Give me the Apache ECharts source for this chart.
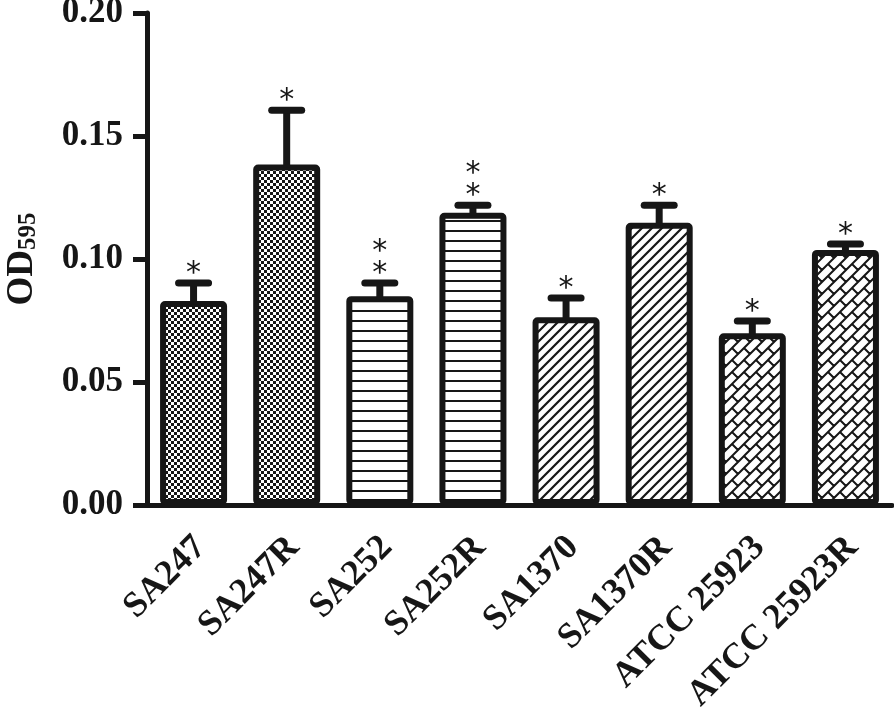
<!DOCTYPE html>
<html><head><meta charset="utf-8">
<script src="https://cdn.jsdelivr.net/npm/echarts@6/dist/echarts.min.js"></script>
<style>html,body{margin:0;padding:0;background:#fff}#c{width:894px;height:712px}</style>
</head><body><div id="c"></div>
<script>
const categories = ['SA247','SA247R','SA252','SA252R','SA1370','SA1370R','ATCC 25923','ATCC 25923R'];
const means = [0.0829,0.1384,0.0849,0.1188,0.0763,0.1147,0.0698,0.1037];
const errTops = [0.0902,0.1605,0.0902,0.1218,0.0841,0.1218,0.0748,0.1061];
const stars = [1,1,2,2,1,1,1,1];
const yTicks = [0,0.05,0.10,0.15,0.20];

const INK = '#161616';
function tile(w,h,draw){
  const c=document.createElement('canvas');c.width=w;c.height=h;
  const g=c.getContext('2d');g.fillStyle='#fff';g.fillRect(0,0,w,h);
  g.fillStyle=INK;g.strokeStyle=INK;draw(g);return c;
}
const checker = tile(6,6,g=>{g.fillRect(0,0,3,3);g.fillRect(3,3,3,3);});
const hlines = tile(10,10,g=>{g.fillRect(0,0,10,2);});
const diag = tile(10,10,g=>{g.lineWidth=2.2;g.beginPath();
  for(const c of [-10,0,10,20]){g.moveTo(c-20,20);g.lineTo(c+20,-20);} g.stroke();});
const brick = tile(24,24,g=>{g.lineWidth=2;g.lineCap='butt';g.beginPath();
  for(let k=-2;k<=6;k++){g.moveTo(12*k+30,-30);g.lineTo(12*k-30,30);}
  for(let k=-3;k<=6;k++){const c0=(((k%2)+2)%2)?12:0;
    for(let m=-3;m<=3;m++){const c=c0+24*m;const s0=12*k,s1=12*k+12;
      g.moveTo((s0+c)/2,(s0-c)/2);g.lineTo((s1+c)/2,(s1-c)/2);}}
  g.stroke();});
const pats = [checker,checker,hlines,hlines,diag,diag,brick,brick];

const chart = echarts.init(document.getElementById('c'),null,{renderer:'canvas'});
const serif = '"Liberation Serif","Times New Roman",serif';
chart.setOption({
  animation:false,
  grid:{left:147,right:2,top:13,bottom:207,containLabel:false,outerBoundsMode:'none'},
  xAxis:{type:'category',data:categories,boundaryGap:true,
    axisLine:{lineStyle:{color:INK,width:5}},
    axisTick:{alignWithLabel:true,length:15,lineStyle:{color:INK,width:5}},
    axisLabel:{rotate:45,interval:0,margin:44,padding:[0,-10,0,0],color:INK,fontFamily:serif,fontWeight:'bold',fontSize:36}},
  yAxis:{type:'value',min:0,max:0.2,interval:0.05,
    name:'{a|OD}{b|595}',nameLocation:'middle',nameRotate:90,nameGap:106,
    nameTextStyle:{rich:{a:{fontFamily:serif,fontWeight:'bold',fontSize:37,color:INK,lineHeight:37,verticalAlign:'bottom'},
                         b:{fontFamily:serif,fontWeight:'bold',fontSize:25,color:INK,lineHeight:12,verticalAlign:'bottom'}}},
    axisLine:{show:true,lineStyle:{color:INK,width:5}},
    axisTick:{show:true,length:14,lineStyle:{color:INK,width:5}},
    splitLine:{show:false},
    axisLabel:{margin:24,color:INK,fontFamily:serif,fontWeight:'bold',fontSize:35,formatter:v=>v.toFixed(2)}},
  series:[
    {type:'bar',barWidth:67,z:2,
     data:means.map((v,i)=>({value:v,itemStyle:{color:{image:pats[i],repeat:'repeat'}}})),
     itemStyle:{borderColor:INK,borderWidth:6,borderRadius:2}},
    {type:'custom',z:3,
     data:categories.map((c,i)=>[i,means[i],errTops[i],stars[i]]),
     encode:{x:0,y:2},
     renderItem:(params,api)=>{
       const i=api.value(0);const p0=api.coord([i,api.value(1)]);const p1=api.coord([i,api.value(2)]);
       const n=api.value(3);
       const ch=[
         {type:'line',shape:{x1:p0[0],y1:p0[1]+3,x2:p1[0],y2:p1[1]},style:{stroke:INK,lineWidth:7}},
         {type:'line',shape:{x1:p1[0]-15,y1:p1[1],x2:p1[0]+15,y2:p1[1]},style:{stroke:INK,lineWidth:7,lineCap:'round'}}
       ];
       for(let s=0;s<n;s++){
         ch.push({type:'text',style:{text:'*',x:p1[0],y:p1[1]-17-22*s+8,align:'center',verticalAlign:'middle',
           font:'30px "DejaVu Sans"',fill:INK}});
       }
       return {type:'group',children:ch};
     }}
  ]
});
</script></body></html>
